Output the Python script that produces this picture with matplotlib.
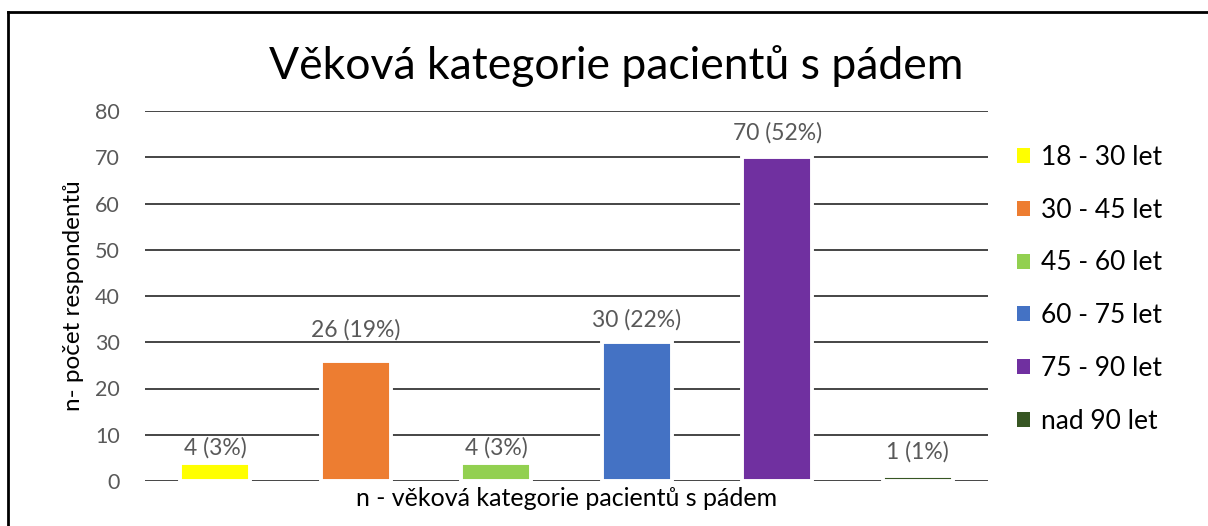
import matplotlib
matplotlib.use("Agg")
import matplotlib.pyplot as plt
from matplotlib.lines import Line2D

categories = ["18 - 30 let", "30 - 45 let", "45 - 60 let", "60 - 75 let", "75 - 90 let", "nad 90 let"]
values = [4, 26, 4, 30, 70, 1]
labels = ["4 (3%)", "26 (19%)", "4 (3%)", "30 (22%)", "70 (52%)", "1 (1%)"]
colors = ["#FFFF00", "#ED7D31", "#92D050", "#4472C4", "#7030A0", "#375623"]
yticks = [0, 10, 20, 30, 40, 50, 60, 70, 80]

# style: vertical offset (points) of each data label above its bar
label_offsets = [10.5, 22.5, 10.5, 16, 17.5, 17.5]

plt.rcParams['font.family'] = ['Lato', 'DejaVu Sans']

W, H = 1208, 526
fig = plt.figure(figsize=(W / 100, H / 100), dpi=100)
ax = fig.add_axes([145 / W, 1 - 481 / H, (988 - 145) / W, (481 - 111) / H])

x = list(range(len(categories)))
bars = ax.bar(x, values, width=0.5, color=colors, edgecolor="white", linewidth=2.8,
              label=categories, zorder=3)
for xi, v, lab, off in zip(x, values, labels, label_offsets):
    ax.annotate(lab, (xi, v), xytext=(0, off), textcoords="offset points",
                ha="center", va="center", fontsize=16.5, color="#595959", zorder=4)

ax.set_xlim(-0.5, len(categories) - 0.5)
ax.set_ylim(0, 80)
ax.set_yticks(yticks)
ax.set_yticklabels([str(t) for t in yticks], fontsize=15.5, color="#595959")
ax.set_xticks([])
ax.tick_params(axis="y", length=0, pad=18)
ax.grid(axis="y", color="#262626", linewidth=1.2, zorder=0)
for s in ax.spines.values():
    s.set_visible(False)

ax.set_ylabel("n- počet respondentů", fontsize=17.5, color="black", labelpad=8)
ax.set_xlabel("n - věková kategorie pacientů s pádem", fontsize=18, color="black", labelpad=4)

fig.text(616 / W, 1 - 66 / H, "Věková kategorie pacientů s pádem", ha="center", va="center",
         fontsize=32, color="black")

handles = [plt.Rectangle((0, 0), 1, 1, facecolor=c, edgecolor="none") for c in colors]
leg = ax.legend(handles=handles, labels=categories, loc="upper left",
                bbox_to_anchor=(1017 / W, 1 - 145 / H), bbox_transform=fig.transFigure,
                frameon=False, fontsize=19, borderpad=0, borderaxespad=0,
                handlelength=0.5, handleheight=0.5,
                handletextpad=0.4, labelspacing=1.05)

# chart border (left and top)
fig.add_artist(Line2D([8 / W, 8 / W], [0, 1 - 12 / H], color="black", linewidth=2,
                      transform=fig.transFigure))
fig.add_artist(Line2D([8 / W, 1], [1 - 12 / H, 1 - 12 / H], color="black", linewidth=2,
                      transform=fig.transFigure))

fig.savefig("out.png", dpi=100)
